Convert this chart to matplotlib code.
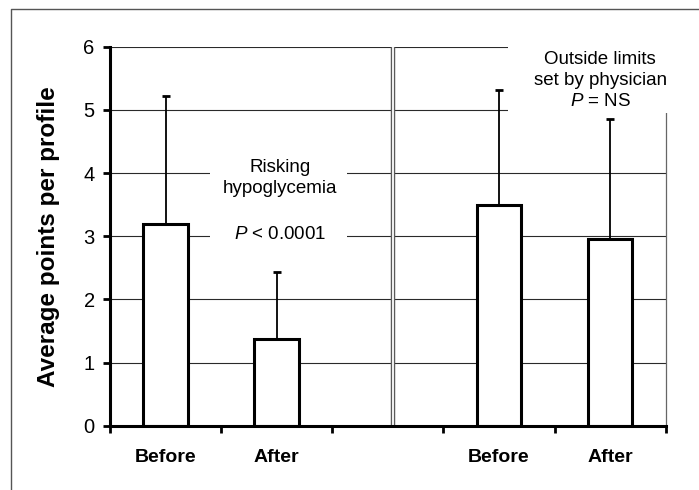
import matplotlib
matplotlib.use("Agg")
import matplotlib.pyplot as plt
from matplotlib.patches import Rectangle
from matplotlib.lines import Line2D

plt.rcParams['font.family'] = ['Liberation Sans', 'DejaVu Sans']
plt.rcParams['mathtext.fontset'] = 'custom'
plt.rcParams['mathtext.rm'] = 'Liberation Sans'
plt.rcParams['mathtext.it'] = 'Liberation Sans:italic'

# ---- data ----
categories = ["Before", "After", "", "Before", "After"]
bar_positions = [0, 1, 3, 4]
means = [3.20, 1.37, 3.49, 2.95]
sd_upper = [2.02, 1.06, 1.82, 1.90]
y_ticks = [0, 1, 2, 3, 4, 5, 6]
ylabel = "Average points per profile"
left_note = "Risking\nhypoglycemia"
left_p = "$\\mathit{P}$ < 0.0001"
right_note = "Outside limits\nset by physician\n$\\mathit{P}$ = NS"

fig = plt.figure(figsize=(6.99, 4.90), dpi=100)
ax = fig.add_axes([110 / 699, 1 - 425.7 / 490, 555.7 / 699, 379 / 490])

ax.set_xlim(-0.5, 4.5)
ax.set_ylim(0, 6)

# gridlines
ax.set_yticks(y_ticks)
ax.yaxis.grid(True, color='#2a2a2a', linewidth=0.8)
ax.set_axisbelow(True)

# bars
ax.bar(bar_positions, means, width=0.40, color='white', edgecolor='black',
       linewidth=2.2, zorder=2)
ax.errorbar(bar_positions, means, yerr=[[0] * len(means), sd_upper], fmt='none',
            ecolor='black', elinewidth=1.3, capsize=3.1, capthick=2.0, zorder=1.9)

# divider (double line)
ax.plot([2.047, 2.047], [0, 6], color='#5a5a5a', linewidth=3.2, zorder=1.5,
        solid_capstyle='butt')
ax.plot([2.047, 2.047], [0, 6], color='white', linewidth=1.3, zorder=1.6,
        solid_capstyle='butt')

# masks behind the notes
ax.add_patch(Rectangle((0.40, 2.78), 1.233, 1.55, facecolor='white',
                       edgecolor='none', zorder=1.8))
ax.add_patch(Rectangle((3.08, 4.95), 2.0, 1.5, facecolor='white',
                       edgecolor='none', zorder=3, clip_on=False))

# notes
ax.text(1.03, 3.92, left_note, ha='center', va='center', fontsize=13.5,
        linespacing=1.28, zorder=4)
ax.text(1.03, 3.03, left_p, ha='center', va='center', fontsize=13.5, zorder=4)
ax.text(3.91, 5.47, right_note, ha='center', va='center', fontsize=13.5,
        linespacing=1.3, zorder=4, clip_on=False)

# spines
for s in ['left', 'bottom']:
    ax.spines[s].set_linewidth(2.2)
    ax.spines[s].set_color('black')
ax.spines['top'].set_visible(False)
ax.spines['right'].set_linewidth(0.9)
ax.spines['right'].set_color('#666666')

# ticks
ax.tick_params(axis='y', direction='out', length=5, width=2, labelsize=14.5,
               pad=6, colors='black')
ax.set_xticks([i - 0.5 for i in range(len(categories) + 1)])
ax.set_xticklabels([])
ax.tick_params(axis='x', which='major', direction='out', length=5, width=2)
ax.set_xticks(range(len(categories)), minor=True)
ax.set_xticklabels(categories, minor=True, fontsize=14, fontweight='bold')
ax.tick_params(axis='x', which='minor', length=0, pad=17)

ax.set_ylabel(ylabel, fontsize=17.5, fontweight='bold')
ax.yaxis.set_label_coords(-0.09, 0.5)

# outer frame (left and top edges visible)
fig.add_artist(Line2D([11 / 699, 11 / 699, 1.0], [0.0, 1 - 9 / 490, 1 - 9 / 490],
                      transform=fig.transFigure, color='#555555', linewidth=1.0))

fig.savefig("out.png", dpi=100)
